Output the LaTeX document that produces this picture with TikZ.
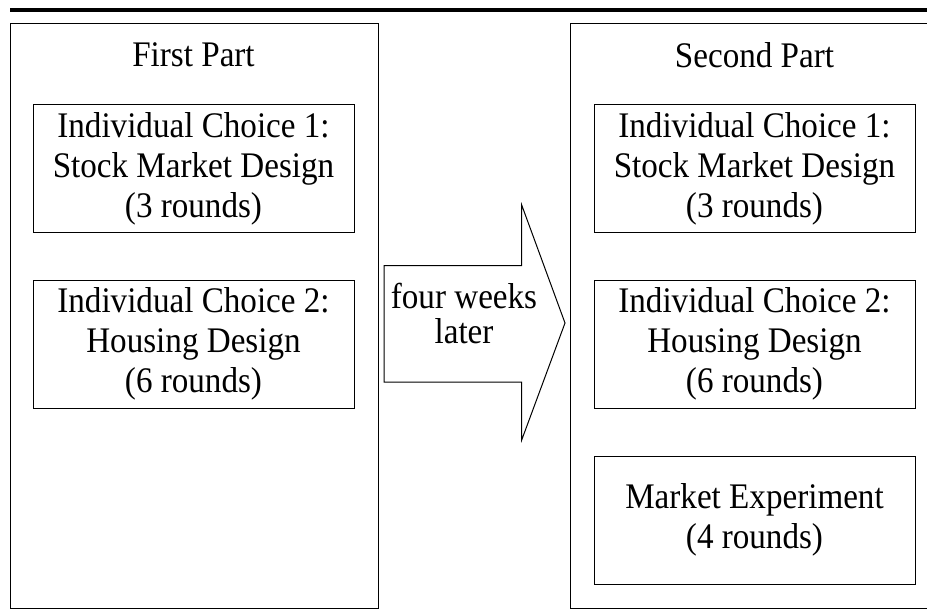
\documentclass[tikz,border=0pt]{standalone}
\usepackage{fontspec}
\setmainfont[FakeStretch=0.92]{Liberation Serif}

\begin{document}
\begin{tikzpicture}[x=1pt,y=-1pt,
	partbox/.style={draw,line width=1pt},
	parttitle/.style={font=\fontsize{36}{40}\selectfont},
	stagebox/.style={draw,line width=1pt,minimum width=321pt,minimum height=128pt,
		align=center,inner sep=0pt,font=\fontsize{36}{40}\selectfont},
	gaptext/.style={align=center,inner sep=0pt,font=\fontsize{36}{35}\selectfont}]
	\useasboundingbox (0,0) rectangle (927,616);

	\draw[line width=3.4pt] (10,10) -- (927,10);

	\draw[partbox] (10,23.5) rectangle (378.7,608);
	\node[parttitle] (first) at (193.5,55) {First Part};
	\node[stagebox] (stock1) at (193.5,168.5) {Individual Choice 1:\\Stock Market Design\\(3 rounds)};
	\node[stagebox] (house1) at (193.5,344) {Individual Choice 2:\\Housing Design\\(6 rounds)};

	\draw[line width=1pt] (384,265.7) -- (521.7,265.7) -- (521.7,205) -- (565,323)
		-- (521.7,440) -- (521.7,382) -- (384,382) -- cycle;
	\node[gaptext] (gap) at (464,313) {four weeks\\later};

	\draw[partbox] (570,23.5) rectangle (940,608);
	\node[parttitle] (second) at (754.5,55) {Second Part};
	\node[stagebox] (stock2) at (754.5,168.5) {Individual Choice 1:\\Stock Market Design\\(3 rounds)};
	\node[stagebox] (house2) at (754.5,344) {Individual Choice 2:\\Housing Design\\(6 rounds)};
	\node[stagebox] (market) at (754.5,520) {Market Experiment\\(4 rounds)};
\end{tikzpicture}
\end{document}
